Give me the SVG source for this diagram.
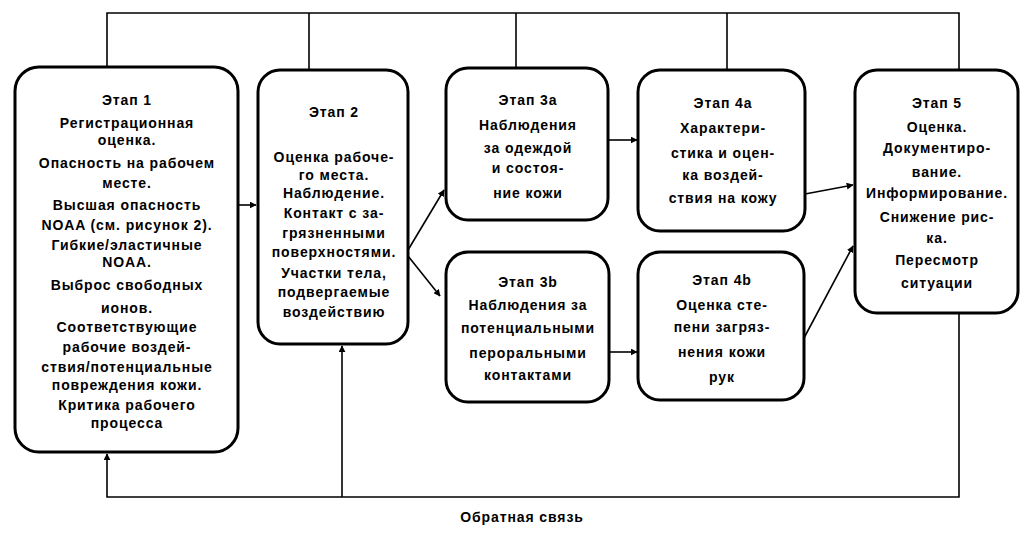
<svg xmlns="http://www.w3.org/2000/svg" width="1029" height="535" viewBox="0 0 1029 535">
<defs>
<style>
.box{fill:#fff;stroke:#000;stroke-width:3}
.c{fill:none;stroke:#000;stroke-width:1.6}
text{font-family:"Liberation Sans",Arial,sans-serif;font-weight:bold;font-size:14px;fill:#000;text-anchor:middle;letter-spacing:0.9px}
</style>
<marker id="ah" viewBox="0 0 10 10" refX="9" refY="5" markerWidth="7" markerHeight="7" markerUnits="userSpaceOnUse" orient="auto">
<path d="M0,0 L10,5 L0,10 z" fill="#000"/>
</marker>
</defs>
<rect width="1029" height="535" fill="#fff"/>
<g id="connectors">
<polyline class="c" points="107,67 107,13 959,13 959,70"/>
<line class="c" x1="309" y1="13" x2="309" y2="70"/>
<line class="c" x1="516" y1="13" x2="516" y2="70"/>
<line class="c" x1="727" y1="13" x2="727" y2="70"/>
<polyline class="c" points="959,313 959,497 107,497 107,454" marker-end="url(#ah)"/>
<line class="c" x1="342" y1="497" x2="342" y2="346" marker-end="url(#ah)"/>
<line class="c" x1="238" y1="205" x2="256" y2="205" marker-end="url(#ah)"/>
<line class="c" x1="408" y1="250" x2="444" y2="190" marker-end="url(#ah)"/>
<line class="c" x1="408" y1="256" x2="440" y2="296" marker-end="url(#ah)"/>
<line class="c" x1="608" y1="140" x2="637" y2="140" marker-end="url(#ah)"/>
<line class="c" x1="610" y1="352" x2="637" y2="352" marker-end="url(#ah)"/>
<line class="c" x1="805" y1="194" x2="853" y2="185" marker-end="url(#ah)"/>
<line class="c" x1="804" y1="338" x2="853" y2="246" marker-end="url(#ah)"/>
</g>
<g id="stage1">
<rect class="box" x="15" y="67" width="223" height="385" rx="24"/>
<text x="127" y="105">Этап 1</text>
<text x="127" y="128">Регистрационная</text>
<text x="127" y="145">оценка.</text>
<text x="127" y="168">Опасность на рабочем</text>
<text x="127" y="188">месте.</text>
<text x="127" y="210">Высшая опасность</text>
<text x="127" y="230">NOAA (см. рисунок 2).</text>
<text x="127" y="250">Гибкие/эластичные</text>
<text x="127" y="267">NOAA.</text>
<text x="127" y="290">Выброс свободных</text>
<text x="127" y="313">ионов.</text>
<text x="127" y="332">Соответствующие</text>
<text x="127" y="352">рабочие воздей-</text>
<text x="127" y="372">ствия/потенциальные</text>
<text x="127" y="390">повреждения кожи.</text>
<text x="127" y="410">Критика рабочего</text>
<text x="127" y="428">процесса</text>
</g>
<g id="stage2">
<rect class="box" x="258" y="70" width="150" height="274" rx="22"/>
<text x="334" y="117">Этап 2</text>
<text x="334" y="162">Оценка рабоче-</text>
<text x="334" y="180">го места.</text>
<text x="334" y="198">Наблюдение.</text>
<text x="334" y="218">Контакт с за-</text>
<text x="334" y="238">грязненными</text>
<text x="334" y="257">поверхностями.</text>
<text x="334" y="278">Участки тела,</text>
<text x="334" y="297">подвергаемые</text>
<text x="334" y="317">воздействию</text>
</g>
<g id="stage3a">
<rect class="box" x="446" y="68" width="162" height="152" rx="22"/>
<text x="528" y="105">Этап 3a</text>
<text x="528" y="130">Наблюдения</text>
<text x="528" y="153">за одеждой</text>
<text x="528" y="173">и состоя-</text>
<text x="528" y="198">ние кожи</text>
</g>
<g id="stage3b">
<rect class="box" x="446" y="252" width="163" height="150" rx="22"/>
<text x="528" y="287">Этап 3b</text>
<text x="528" y="310">Наблюдения за</text>
<text x="528" y="333">потенциальными</text>
<text x="528" y="358">пероральными</text>
<text x="528" y="380">контактами</text>
</g>
<g id="stage4a">
<rect class="box" x="638" y="70" width="167" height="161" rx="22"/>
<text x="723" y="108">Этап 4a</text>
<text x="723" y="133">Характери-</text>
<text x="723" y="158">стика и оцен-</text>
<text x="723" y="180">ка воздей-</text>
<text x="723" y="203">ствия на кожу</text>
</g>
<g id="stage4b">
<rect class="box" x="638" y="252" width="166" height="148" rx="22"/>
<text x="722" y="285">Этап 4b</text>
<text x="722" y="310">Оценка сте-</text>
<text x="722" y="332">пени загряз-</text>
<text x="722" y="357">нения кожи</text>
<text x="722" y="382">рук</text>
</g>
<g id="stage5">
<rect class="box" x="855" y="70" width="163" height="243" rx="22"/>
<text x="937" y="108">Этап 5</text>
<text x="937" y="132">Оценка.</text>
<text x="937" y="153">Документиро-</text>
<text x="937" y="177">вание.</text>
<text x="937" y="198">Информирование.</text>
<text x="937" y="222">Снижение рис-</text>
<text x="937" y="243">ка.</text>
<text x="937" y="265">Пересмотр</text>
<text x="937" y="288">ситуации</text>
</g>
<g id="feedback-label">
<text x="522" y="522">Обратная связь</text>
</g>
</svg>
